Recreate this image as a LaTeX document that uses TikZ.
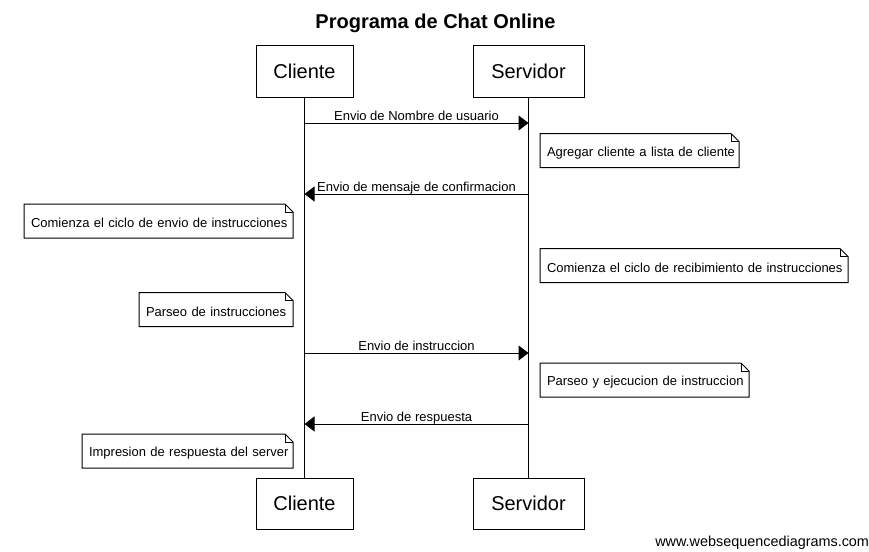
\documentclass[tikz,border=0pt]{standalone}
\usepackage{fontspec}
\setmainfont{Liberation Sans}
\usetikzlibrary{arrows.meta}
\tikzset{
  x=1pt, y=-1pt,
  every node/.style={inner sep=0pt, outer sep=0pt},
  actor/.style={draw, line width=1pt, minimum height=51pt, font=\fontsize{20}{24}\selectfont},
  msgline/.style={line width=1pt, -{Triangle[length=10pt,width=15pt]}},
  msglabel/.style={font=\fontsize{13}{15}\selectfont, anchor=base},
  notetext/.style={font=\fontsize{13}{15}\selectfont, anchor=west, minimum height=34pt, align=left, inner xsep=7pt}
}
\newcommand{\notebox}[1]{%
  \draw[line width=1pt] (#1.south west) -- (#1.north west) -- ([xshift=-8pt]#1.north east)
    -- ([yshift=-8pt]#1.north east) -- (#1.south east) -- cycle;
  \draw[line width=1pt] ([xshift=-8pt]#1.north east) -- ([xshift=-8pt,yshift=-8pt]#1.north east)
    -- ([yshift=-8pt]#1.north east);
}
\newcommand{\nt}[1]{\mbox{\rule{0pt}{14pt}#1}}
\begin{document}
\begin{tikzpicture}
\useasboundingbox (0,0) rectangle (869,551);
\fill[white] (0,0) rectangle (869,551);
% title
\node[font=\bfseries\fontsize{20}{24}\selectfont] (title) at (435.5,23) {Programa de Chat Online};
% actors
\node[actor, minimum width=97pt] (ct) at (304.5,71.5) {Cliente};
\node[actor, minimum width=111pt] (st) at (528.5,71.5) {Servidor};
\node[actor, minimum width=97pt] (cb) at (304.5,503.5) {Cliente};
\node[actor, minimum width=111pt] (sb) at (528.5,503.5) {Servidor};
\draw[line width=1pt] (ct.south) -- (cb.north);
\draw[line width=1pt] (st.south) -- (sb.north);
% message coordinates
\coordinate (c1) at (304.5,123); \coordinate (s1) at (528.5,123);
\coordinate (c2) at (304.5,194); \coordinate (s2) at (528.5,194);
\coordinate (c3) at (304.5,353); \coordinate (s3) at (528.5,353);
\coordinate (c4) at (304.5,424); \coordinate (s4) at (528.5,424);
\draw[msgline] (c1) -- (s1);
\node[msglabel] (l1) at (416.5,120) {Envio de Nombre de usuario};
\draw[msgline] (s2) -- (c2);
\node[msglabel] (l2) at (416.5,191) {Envio de mensaje de confirmacion};
\draw[msgline] (c3) -- (s3);
\node[msglabel] (l3) at (416.5,350) {Envio de instruccion};
\draw[msgline] (s4) -- (c4);
\node[msglabel] (l4) at (416.5,421) {Envio de respuesta};
% notes
\node[notetext, text width=185pt] (n1) at (540,150.5) {\nt{Agregar cliente a lista de cliente}};
\notebox{n1}
\node[notetext, text width=255pt] (n2) at (24,221) {\nt{Comienza el ciclo de envio de instrucciones}};
\notebox{n2}
\node[notetext, text width=294pt] (n3) at (540,265.5) {\nt{Comienza el ciclo de recibimiento de instrucciones}};
\notebox{n3}
\node[notetext, text width=140pt] (n4) at (139,309.5) {\nt{Parseo de instrucciones}};
\notebox{n4}
\node[notetext, text width=195pt] (n5) at (540,380) {\nt{Parseo y ejecucion de instruccion}};
\notebox{n5}
\node[notetext, text width=197pt] (n6) at (82,451) {\nt{Impresion de respuesta del server}};
\notebox{n6}
% watermark
\node[font=\fontsize{14.4}{16}\selectfont, anchor=east] (wm) at (869,543) {www.websequencediagrams.com};
\end{tikzpicture}
\end{document}
